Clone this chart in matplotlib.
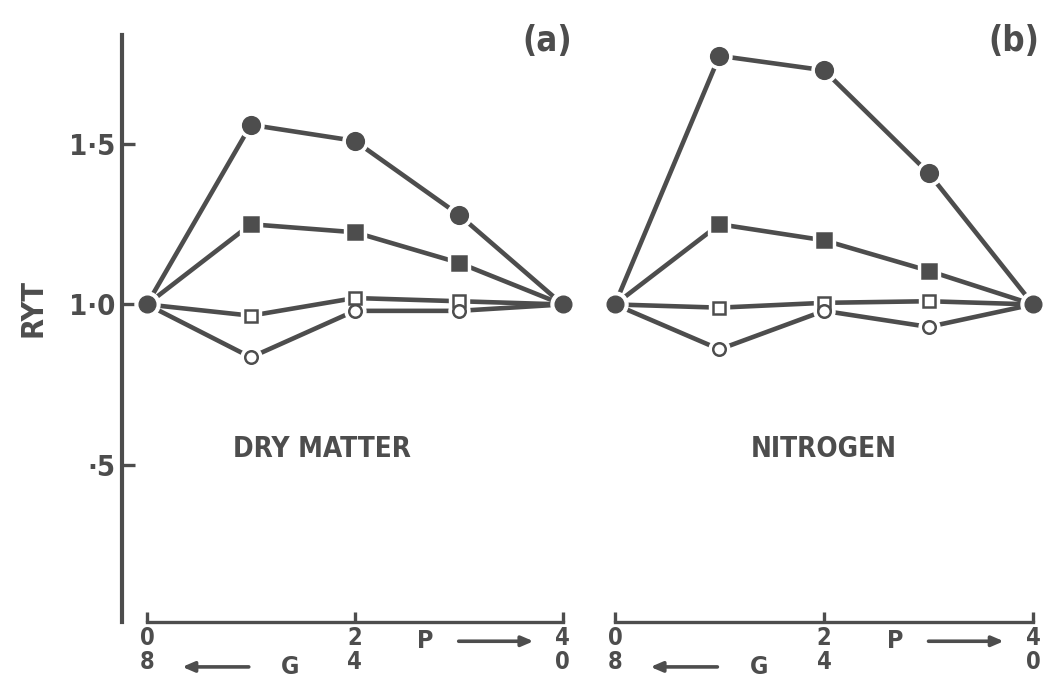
import matplotlib
matplotlib.use("Agg")
import matplotlib.pyplot as plt

INK = "#4d4d4d"
plt.rcParams["font.family"] = ["DejaVu Sans"]
plt.rcParams["font.weight"] = "bold"
plt.rcParams["font.stretch"] = "condensed"

# P proportion (0..4); G proportion runs 8..0 the other way
x_vals = [0, 1, 2, 3, 4]

# (a) dry matter
dm_filled_circle = [1.00, 1.56, 1.51, 1.28, 1.00]
dm_filled_square = [1.00, 1.25, 1.225, 1.13, 1.00]
dm_open_square = [1.00, 0.965, 1.02, 1.01, 1.00]
dm_open_circle = [1.00, 0.835, 0.98, 0.98, 1.00]

# (b) nitrogen
n_filled_circle = [1.00, 1.775, 1.73, 1.41, 1.00]
n_filled_square = [1.00, 1.25, 1.20, 1.105, 1.00]
n_open_square = [1.00, 0.99, 1.005, 1.01, 1.00]
n_open_circle = [1.00, 0.86, 0.98, 0.93, 1.00]

y_ticks = [0.5, 1.0, 1.5]
y_tick_labels = ["·5", "1·0", "1·5"]
x_ticks = [0, 2, 4]
x_tick_labels = ["0\n8", "2\n4", "4\n0"]

W, H = 1052, 688
fig = plt.figure(figsize=(W / 100, H / 100), dpi=100)

top_px, bot_px = 35, 622
ax_bottom = 1 - bot_px / H
ax_height = (bot_px - top_px) / H
ylim = (0.01, 1.84)

ax_a = fig.add_axes([122 / W, ax_bottom, (573 - 122) / W, ax_height])
ax_b = fig.add_axes([604.5 / W, ax_bottom, (1043.5 - 604.5) / W, ax_height])
ax_a.set_xlim(-0.24, 4.1)
ax_b.set_xlim(-0.1, 4.1)


def draw_series(ax, y, marker, ms, filled):
    ax.plot(x_vals, y, color=INK, lw=3.3, solid_capstyle="butt", zorder=2)
    inner = x_vals[1:-1]
    inner_y = y[1:-1]
    # white halo leaves a small gap between line and marker
    ax.plot(inner, inner_y, ls="none", marker=marker, ms=ms + 6,
            mfc="white", mec="white", zorder=3)
    ax.plot(inner, inner_y, ls="none", marker=marker, ms=ms,
            mfc=INK if filled else "white", mec=INK,
            mew=1.8, zorder=4)


for ax, fc, fs, os_, oc in [
    (ax_a, dm_filled_circle, dm_filled_square, dm_open_square, dm_open_circle),
    (ax_b, n_filled_circle, n_filled_square, n_open_square, n_open_circle),
]:
    draw_series(ax, fc, "o", 12, True)
    draw_series(ax, fs, "s", 9.5, True)
    draw_series(ax, os_, "s", 8, False)
    draw_series(ax, oc, "o", 9, False)
    # shared end points (pure stands)
    ax.plot([x_vals[0], x_vals[-1]], [fc[0], fc[-1]], ls="none", marker="o",
            ms=18, mfc="white", mec="white", zorder=3)
    ax.plot([x_vals[0], x_vals[-1]], [fc[0], fc[-1]], ls="none", marker="o",
            ms=12, mfc=INK, mec=INK, zorder=5)

    ax.set_ylim(*ylim)
    ax.set_facecolor("none")
    for s in ("top", "right"):
        ax.spines[s].set_visible(False)
    ax.spines["bottom"].set_bounds(0, 4)
    ax.spines["bottom"].set_color(INK)
    ax.spines["bottom"].set_linewidth(2.4)
    ax.set_xticks(x_ticks)
    ax.set_xticklabels(x_tick_labels, fontsize=17, color=INK,
                       fontweight="bold", linespacing=1.0)
    ax.tick_params(axis="x", direction="in", length=7, width=2.4,
                   color=INK, pad=3)
    # P increases to the right, G to the left
    ax.text(2.68, -0.05, "P", transform=ax.transData, ha="center", va="center",
            fontsize=18, color=INK, clip_on=False)
    ax.annotate("", xy=(3.72, -0.05), xytext=(3.0, -0.05),
                xycoords="data", textcoords="data", annotation_clip=False,
                arrowprops=dict(arrowstyle="-|>,head_length=0.7,head_width=0.3",
                                color=INK, lw=2.6, shrinkA=0, shrinkB=0))
    ax.text(1.38, -0.13, "G", transform=ax.transData, ha="center", va="center",
            fontsize=18, color=INK, clip_on=False)
    ax.annotate("", xy=(0.34, -0.13), xytext=(0.98, -0.13),
                xycoords="data", textcoords="data", annotation_clip=False,
                arrowprops=dict(arrowstyle="-|>,head_length=0.7,head_width=0.3",
                                color=INK, lw=2.6, shrinkA=0, shrinkB=0))

ax_a.spines["left"].set_color(INK)
ax_a.spines["left"].set_linewidth(3.0)
ax_a.set_yticks(y_ticks)
ax_a.set_yticklabels(y_tick_labels, fontsize=21, color=INK, fontweight="bold")
ax_a.tick_params(axis="y", direction="in", length=9, width=2.4, color=INK, pad=5)
ax_a.set_ylabel("RYT", fontsize=22, color=INK, fontweight="bold")
ax_a.yaxis.set_label_coords(-0.165, 0.535)

ax_b.spines["left"].set_visible(False)
ax_b.set_yticks([])

ax_a.text(3.85, 1.82, "(a)", fontsize=25, color=INK, ha="center", va="center")
ax_b.text(3.82, 1.82, "(b)", fontsize=25, color=INK, ha="center", va="center")
ax_a.text(1.68, 0.55, "DRY MATTER", fontsize=20, color=INK, ha="center", va="center")
ax_b.text(2.0, 0.55, "NITROGEN", fontsize=20, color=INK, ha="center", va="center")

fig.savefig("out.png", dpi=100, facecolor="white")
